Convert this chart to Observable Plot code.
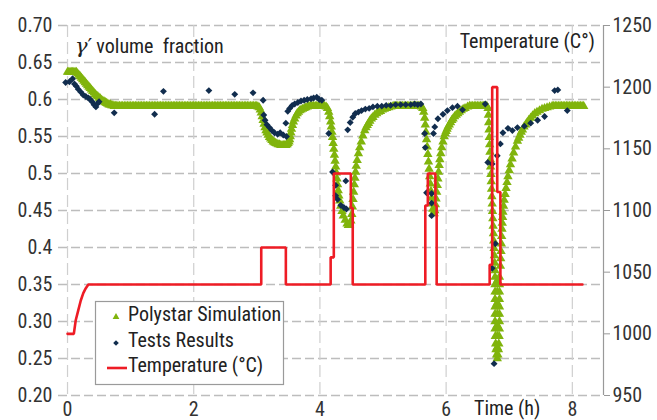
<!DOCTYPE html>
<html><head><meta charset="utf-8">
<script src="https://cdn.jsdelivr.net/npm/d3@7"></script>
<script src="https://cdn.jsdelivr.net/npm/@observablehq/plot@0.6"></script>
<style>
html,body{margin:0;padding:0;background:#fff;}
#chart{width:657px;height:420px;overflow:hidden;}
</style></head><body><div id="chart"></div>
<script>
const FONT = '"Liberation Sans Narrow", "Roboto Condensed", "DejaVu Sans Condensed", "Liberation Sans", sans-serif';

// Axis ticks and labels
const fracTicks = [0.20,0.25,0.30,0.35,0.40,0.45,0.50,0.55,0.60,0.65,0.70];
const fracLabels = ["0.20","0.25","0.30","0.35","0.4","0.45","0.5","0.55","0.6","0.65","0.70"];
const tempTicks = [950,1000,1050,1100,1150,1200,1250];
const tempLabels = ["950","1000","1050","1100","1150","1200","1250"];
const timeTicks = [0,2,4,6,8];
const timeLabels = ["0","2","4","6","8"];
const seriesNames = ["Polystar Simulation","Tests Results","Temperature (°C)"];

// Polystar simulation: [time h, gamma' volume fraction]
const simulation = [
[0.00,0.637],[0.02,0.637],[0.04,0.637],[0.06,0.637],[0.08,0.637],[0.10,0.637],[0.12,0.637],[0.14,0.637],
[0.16,0.635],[0.18,0.633],[0.20,0.631],[0.22,0.629],[0.24,0.627],[0.26,0.625],[0.28,0.623],[0.30,0.621],
[0.32,0.619],[0.34,0.617],[0.36,0.615],[0.38,0.613],[0.40,0.611],[0.42,0.609],[0.44,0.607],[0.46,0.605],
[0.48,0.604],[0.50,0.602],[0.52,0.601],[0.54,0.599],[0.56,0.598],[0.58,0.597],[0.60,0.596],[0.62,0.595],
[0.64,0.594],[0.66,0.593],[0.68,0.593],[0.70,0.592],[0.72,0.592],[0.74,0.591],[0.76,0.591],[0.78,0.591],
[0.800,0.591],[0.825,0.591],[0.850,0.591],[0.875,0.591],[0.900,0.591],[0.925,0.591],[0.950,0.591],[0.975,0.591],
[1.000,0.591],[1.025,0.591],[1.050,0.591],[1.075,0.591],[1.100,0.591],[1.125,0.591],[1.150,0.591],[1.175,0.591],
[1.200,0.591],[1.225,0.591],[1.250,0.591],[1.275,0.591],[1.300,0.591],[1.325,0.591],[1.350,0.591],[1.375,0.591],
[1.400,0.591],[1.425,0.591],[1.450,0.591],[1.475,0.591],[1.500,0.591],[1.525,0.591],[1.550,0.591],[1.575,0.591],
[1.600,0.591],[1.625,0.591],[1.650,0.591],[1.675,0.591],[1.700,0.591],[1.725,0.591],[1.750,0.591],[1.775,0.591],
[1.800,0.591],[1.825,0.591],[1.850,0.591],[1.875,0.591],[1.900,0.591],[1.925,0.591],[1.950,0.591],[1.975,0.591],
[2.000,0.591],[2.025,0.591],[2.050,0.591],[2.075,0.591],[2.100,0.591],[2.125,0.591],[2.150,0.591],[2.175,0.591],
[2.200,0.591],[2.225,0.591],[2.250,0.591],[2.275,0.591],[2.300,0.591],[2.325,0.591],[2.350,0.591],[2.375,0.591],
[2.400,0.591],[2.425,0.591],[2.450,0.591],[2.475,0.591],[2.500,0.591],[2.525,0.591],[2.550,0.591],[2.575,0.591],
[2.600,0.591],[2.625,0.591],[2.650,0.591],[2.675,0.591],[2.700,0.591],[2.725,0.591],[2.750,0.591],[2.775,0.591],
[2.800,0.591],[2.825,0.591],[2.850,0.591],[2.875,0.591],[2.900,0.591],[2.925,0.591],[2.950,0.591],[2.975,0.591],
[3.000,0.591],[3.020,0.590],
[3.04,0.589],[3.055,0.586],[3.07,0.582],[3.085,0.577],[3.10,0.572],[3.115,0.567],[3.13,0.562],[3.145,0.558],
[3.16,0.555],[3.18,0.552],[3.20,0.549],[3.22,0.547],[3.24,0.545],[3.26,0.543],[3.28,0.542],[3.30,0.541],
[3.32,0.540],[3.34,0.539],[3.36,0.539],[3.38,0.538],[3.40,0.538],[3.42,0.538],[3.44,0.538],[3.46,0.538],
[3.48,0.539],[3.495,0.541],[3.51,0.543],[3.52,0.546],[3.53,0.550],[3.54,0.555],[3.55,0.560],[3.565,0.565],
[3.58,0.570],[3.60,0.574],[3.62,0.578],[3.64,0.581],[3.66,0.583],[3.68,0.585],[3.70,0.586],[3.725,0.587],
[3.75,0.588],[3.775,0.589],[3.80,0.590],[3.825,0.591],[3.85,0.591],[3.875,0.591],[3.90,0.591],[3.925,0.591],
[3.95,0.591],[3.975,0.591],[4.00,0.591],[4.025,0.591],[4.05,0.591],[4.075,0.591],[4.10,0.590],
[4.12,0.588],[4.14,0.583],[4.155,0.577],[4.17,0.570],[4.18,0.563],[4.19,0.556],[4.20,0.549],[4.21,0.541],
[4.22,0.533],[4.23,0.525],[4.24,0.517],[4.25,0.509],[4.26,0.501],[4.27,0.493],[4.28,0.485],[4.29,0.477],
[4.30,0.470],[4.315,0.463],[4.33,0.456],[4.35,0.449],[4.37,0.443],[4.40,0.437],[4.43,0.432],[4.45,0.430],
[4.47,0.431],[4.49,0.436],[4.505,0.445],[4.515,0.455],[4.525,0.465],[4.535,0.475],[4.545,0.485],[4.555,0.494],
[4.565,0.502],[4.575,0.510],[4.59,0.518],[4.61,0.527],[4.63,0.535],[4.655,0.543],[4.68,0.551],[4.71,0.558],
[4.73,0.562],[4.75,0.565],[4.77,0.568],[4.79,0.571],[4.815,0.574],[4.84,0.576],[4.87,0.579],[4.90,0.581],
[4.93,0.583],[4.96,0.584],[4.99,0.586],[5.02,0.587],[5.055,0.588],[5.09,0.589],[5.125,0.590],[5.16,0.591],
[5.185,0.591],[5.21,0.591],[5.235,0.591],[5.26,0.591],[5.285,0.591],[5.31,0.591],[5.335,0.591],[5.36,0.591],
[5.385,0.591],[5.41,0.591],[5.435,0.591],[5.46,0.591],[5.485,0.591],[5.51,0.591],[5.535,0.591],[5.56,0.591],
[5.585,0.591],[5.61,0.590],
[5.63,0.588],[5.645,0.583],[5.66,0.575],[5.67,0.566],[5.68,0.556],[5.69,0.546],[5.70,0.536],[5.71,0.526],
[5.72,0.516],[5.73,0.506],[5.74,0.496],[5.75,0.486],[5.76,0.476],[5.77,0.467],[5.78,0.459],[5.79,0.452],
[5.80,0.447],[5.81,0.446],[5.82,0.450],[5.83,0.458],[5.84,0.466],[5.85,0.475],[5.86,0.484],[5.87,0.493],
[5.88,0.502],[5.89,0.511],[5.90,0.519],[5.915,0.527],[5.93,0.535],[5.95,0.543],[5.97,0.550],[5.985,0.554],
[6.00,0.557],[6.015,0.560],[6.03,0.563],[6.05,0.566],[6.07,0.569],[6.09,0.572],[6.11,0.574],[6.135,0.577],
[6.16,0.579],[6.185,0.581],[6.21,0.583],[6.24,0.585],[6.27,0.587],[6.30,0.588],[6.34,0.590],[6.37,0.591],
[6.395,0.591],[6.42,0.591],[6.445,0.591],[6.47,0.591],[6.495,0.591],[6.52,0.591],[6.545,0.591],[6.57,0.591],
[6.595,0.591],[6.62,0.591],[6.645,0.591],
[6.665,0.588],[6.67,0.579],[6.675,0.569],[6.68,0.559],[6.685,0.549],[6.69,0.539],[6.695,0.529],[6.70,0.519],
[6.705,0.509],[6.71,0.499],[6.715,0.489],[6.72,0.479],[6.725,0.469],[6.73,0.459],[6.735,0.449],[6.74,0.439],
[6.745,0.429],[6.75,0.419],[6.755,0.409],[6.76,0.399],[6.765,0.389],[6.77,0.379],[6.775,0.369],
[6.775,0.360],[6.775,0.350],[6.775,0.340],[6.775,0.330],[6.775,0.320],[6.775,0.310],[6.775,0.300],[6.775,0.290],
[6.78,0.280],[6.785,0.270],[6.79,0.262],[6.80,0.255],[6.81,0.250],[6.82,0.255],[6.83,0.262],[6.835,0.270],
[6.84,0.280],[6.845,0.290],[6.845,0.300],[6.845,0.310],[6.845,0.320],[6.845,0.330],[6.845,0.340],[6.845,0.350],
[6.845,0.360],[6.81,0.355],[6.81,0.340],[6.81,0.325],[6.81,0.310],[6.81,0.295],[6.81,0.280],[6.81,0.265],
[6.86,0.375],[6.865,0.385],[6.87,0.395],[6.875,0.405],[6.88,0.415],[6.885,0.425],[6.89,0.433],[6.895,0.441],
[6.90,0.448],[6.91,0.456],[6.92,0.464],[6.935,0.472],[6.95,0.480],[6.965,0.488],[6.98,0.496],[7.00,0.504],
[7.02,0.512],[7.045,0.520],[7.07,0.528],[7.10,0.536],[7.13,0.544],[7.15,0.548],[7.17,0.552],[7.19,0.556],
[7.21,0.559],[7.235,0.563],[7.26,0.566],[7.285,0.569],[7.31,0.572],[7.34,0.575],[7.37,0.578],[7.405,0.581],
[7.44,0.583],[7.48,0.585],[7.52,0.587],[7.56,0.588],[7.60,0.589],[7.64,0.590],[7.68,0.591],[7.705,0.591],
[7.73,0.591],[7.755,0.591],[7.78,0.591],[7.805,0.591],[7.83,0.591],[7.855,0.591],[7.88,0.591],[7.905,0.591],
[7.93,0.591],[7.955,0.591],[7.98,0.591],[8.005,0.591],[8.03,0.591],[8.055,0.591],[8.08,0.591],[8.105,0.591],
[8.13,0.591],[8.155,0.591],[8.18,0.591]
];

// Test results: [time h, gamma' volume fraction]
const tests = [
[-0.03,0.623],[0.03,0.624],[0.08,0.628],[0.11,0.621],[0.14,0.618],[0.17,0.614],[0.21,0.610],[0.25,0.606],
[0.29,0.604],[0.33,0.602],[0.36,0.600],[0.39,0.597],[0.42,0.593],[0.45,0.590],[0.48,0.595],[0.50,0.597],
[0.74,0.582],[1.38,0.580],[1.52,0.611],[2.24,0.612],[2.65,0.607],[2.94,0.609],
[3.10,0.599],[3.11,0.579],[3.13,0.572],[3.16,0.566],[3.20,0.562],[3.24,0.558],[3.28,0.555],[3.33,0.553],
[3.37,0.555],[3.42,0.552],[3.47,0.550],[3.46,0.568],[3.49,0.584],[3.52,0.588],[3.56,0.592],[3.60,0.594],
[3.65,0.596],[3.70,0.598],[3.75,0.599],[3.80,0.600],[3.86,0.601],[3.90,0.602],[3.95,0.603],[3.99,0.600],
[4.03,0.599],[4.14,0.554],[4.20,0.502],[4.25,0.484],[4.25,0.470],[4.28,0.465],[4.33,0.457],[4.38,0.454],
[4.42,0.452],[4.41,0.490],[4.44,0.559],[4.48,0.569],[4.52,0.576],[4.56,0.581],[4.61,0.583],[4.66,0.585],
[4.72,0.587],[4.78,0.588],[4.84,0.590],[4.91,0.591],[4.98,0.591],[5.05,0.592],[5.12,0.592],[5.20,0.593],
[5.28,0.593],[5.36,0.593],[5.44,0.593],[5.50,0.594],[5.55,0.593],[5.60,0.594],
[5.66,0.554],[5.67,0.535],[5.69,0.474],[5.77,0.473],[5.77,0.460],[5.77,0.443],[5.80,0.554],[5.82,0.563],
[5.87,0.574],[5.95,0.580],[6.02,0.585],[6.10,0.589],[6.18,0.591],[6.26,0.586],
[6.62,0.594],[6.66,0.515],[6.73,0.513],[6.81,0.524],[6.78,0.405],[6.73,0.372],[6.76,0.243],
[6.86,0.540],[6.90,0.555],[6.98,0.561],[7.05,0.558],[7.13,0.562],[7.24,0.564],[7.34,0.568],[7.45,0.572],
[7.56,0.577],[7.72,0.612],[7.77,0.613],[7.92,0.585]
];

// Temperature profile: [time h, °C]
const temperature = [
[0.00,1000],[0.10,1000],[0.13,1011],[0.17,1019],[0.21,1027],[0.25,1033],[0.29,1037],[0.33,1040],
[3.07,1040],[3.07,1070],[3.46,1070],[3.46,1040],
[4.17,1040],[4.17,1062],[4.22,1062],[4.22,1130],[4.49,1130],[4.49,1102],[4.52,1102],[4.52,1040],
[5.67,1040],[5.67,1104],[5.71,1104],[5.71,1130],[5.83,1130],[5.83,1104],[5.85,1104],[5.85,1040],
[6.69,1040],[6.69,1056],[6.73,1056],[6.73,1200],[6.81,1200],[6.81,1115],[6.86,1115],[6.86,1040],
[8.16,1040]
];

const GREEN = "#80b40c", NAVY = "#112d4e", RED = "#ee1c25";
const tempToFrac = T => 0.2 + (T - 950) / 600;
const fracLabel = d => fracLabels[fracTicks.findIndex(v => Math.abs(v - d) < 1e-9)];
const tempLabel = d => tempLabels[tempTicks.findIndex(v => Math.abs(tempToFrac(v) - d) < 1e-9)];
const timeLabel = d => timeLabels[timeTicks.indexOf(d)];
const xDomain = [-0.143, 8.494];

const chart = Plot.plot({
  width: 657, height: 420,
  marginTop: 25, marginBottom: 25, marginLeft: 58, marginRight: 54,
  x: {domain: xDomain},
  y: {domain: [0.2, 0.7]},
  style: {fontFamily: FONT, fontSize: "20px", color: "#333", background: "#fff"},
  marks: [
    Plot.gridY(fracTicks, {stroke: "#bdbdbd", strokeOpacity: 1, strokeWidth: 1.3, strokeDasharray: "9,4"}),
    Plot.gridX(timeTicks, {stroke: "#cfcfcf", strokeOpacity: 1, strokeWidth: 1.2, strokeDasharray: "12,5"}),
    Plot.ruleX([xDomain[1]], {stroke: "#999", strokeWidth: 1.2}),
    Plot.axisY(fracTicks, {tickSize: 0, tickPadding: 6, tickFormat: fracLabel, label: null}),
    Plot.axisY(tempTicks.map(tempToFrac), {anchor: "right", tickSize: 6, tickPadding: 3, stroke: "#999", tickFormat: tempLabel, label: null}),
    Plot.axisX(timeTicks, {tickSize: 0, tickPadding: 6, tickFormat: timeLabel, label: null}),
    Plot.dot(simulation, {x: d => d[0], y: d => d[1], symbol: "triangle", r: 3.5, fill: GREEN, stroke: "none"}),
    Plot.dot(tests, {x: d => d[0], y: d => d[1], symbol: "diamond2", r: 3.1, fill: NAVY, stroke: "none"}),
    Plot.line(temperature, {x: d => d[0], y: d => tempToFrac(d[1]), stroke: RED, strokeWidth: 2.6, strokeLinejoin: "miter"})
  ]
});
document.getElementById("chart").appendChild(chart);

// Titles and legend
const svg = d3.select(chart);
const t1 = svg.append("text").attr("x", 75).attr("y", 53).attr("fill", "#222").attr("text-anchor", "start")
  .style("font-family", FONT).style("font-size", "20px").style("white-space", "pre");
t1.append("tspan").style("font-family", '"DejaVu Serif", "Liberation Serif", serif').style("font-style", "italic").style("font-size", "21px").text("γ");
t1.append("tspan").style("font-family", '"DejaVu Serif", "Liberation Serif", serif').style("font-size", "21px").text("′");
t1.append("tspan").attr("dx", 4).text("volume  fraction");
svg.append("text").attr("x", 595).attr("y", 48).attr("text-anchor", "end").attr("fill", "#222")
  .style("font-family", FONT).style("font-size", "20px").text("Temperature (C°)");
svg.append("text").attr("x", 474).attr("y", 415).attr("text-anchor", "start").attr("fill", "#222")
  .style("font-family", FONT).style("font-size", "20px").text("Time (h)");

const lg = svg.append("g");
lg.append("rect").attr("x", 95.5).attr("y", 301.5).attr("width", 188).attr("height", 83)
  .attr("fill", "#fff").attr("stroke", "#9a9a9a").attr("stroke-width", 1.2);
lg.append("path").attr("transform", "translate(116,317)").attr("d", d3.symbol(d3.symbolTriangle, 20)()).attr("fill", GREEN);
lg.append("path").attr("transform", "translate(116,343)").attr("d", d3.symbol(d3.symbolDiamond2, 20)()).attr("fill", NAVY);
lg.append("line").attr("x1", 107).attr("x2", 127).attr("y1", 368).attr("y2", 368).attr("stroke", RED).attr("stroke-width", 2.6);
[321, 347, 372].forEach((y, i) => {
  lg.append("text").attr("x", 128).attr("y", y).attr("text-anchor", "start").attr("fill", "#222")
    .style("font-family", FONT).style("font-size", "20px").text(seriesNames[i]);
});
</script></body></html>
